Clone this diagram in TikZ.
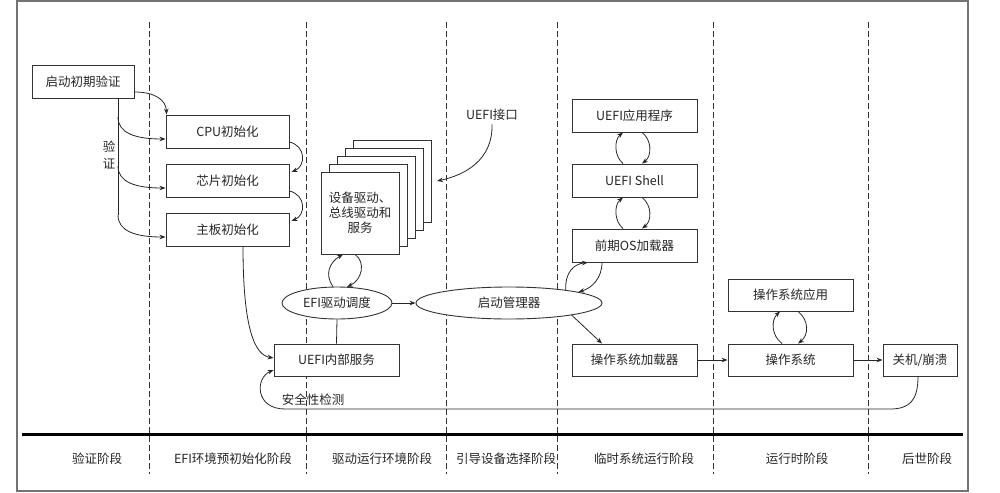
\documentclass[tikz,border=0pt]{standalone}
\usepackage{fontspec}
\setmainfont{Noto Sans CJK SC}
\usetikzlibrary{arrows.meta,shapes.geometric}

\begin{document}
\begin{tikzpicture}[x=1pt,y=-1pt,>={Stealth[length=6pt,width=4.5pt]},
    every node/.style={font=\fontsize{12.5pt}{15pt}\selectfont,text=black!85},
    box/.style={draw=black!80,line width=0.9pt,fill=white,minimum width=125pt,minimum height=33pt,inner sep=0pt},
    oval/.style={draw=black!80,line width=0.9pt,fill=white,ellipse,minimum height=32pt,inner sep=0pt},
    link/.style={draw=black!85,line width=0.8pt}]
    \useasboundingbox (0,0) rectangle (1000,492);
    \draw [black!55,line width=1.3pt] (17,1) rectangle (968,491);
    \foreach \x in {149,306,446,557,713,868}
      \draw [black!80,line width=0.8pt,dash pattern=on 6pt off 3pt] (\x,22) -- (\x,474);
    \draw [line width=3pt] (22,434) -- (963,434);
    % stack of driver pages
    \foreach \k in {4,3,2,1}
      \draw [black!80,line width=0.9pt,fill=white] (321+8*\k,172-8*\k) rectangle ++(78,82);
    \node [box,minimum width=102pt] (start) at (83,81.5) {启动初期验证};
    \node [box,minimum width=123pt] (cpu) at (227.5,131.5) {CPU初始化};
    \node [box,minimum width=123pt] (chip) at (227.5,180.5) {芯片初始化};
    \node [box,minimum width=123pt] (board) at (227.5,229.5) {主板初始化};
    \node [box,minimum width=78pt,minimum height=82pt,align=center] (drv) at (360,213) {设备驱动、\\总线驱动和\\服务};
    \node [oval,minimum width=110pt] (efi) at (337,303) {EFI驱动调度};
    \node [oval,minimum width=186pt] (bm) at (509,303) {启动管理器};
    \node [box,minimum height=32pt] (inner) at (336.5,360) {UEFI内部服务};
    \node [box] (app) at (634.5,115.5) {UEFI应用程序};
    \node [box] (shell) at (634.5,180.5) {UEFI Shell};
    \node [box] (preos) at (634.5,245.5) {前期OS加载器};
    \node [box,minimum height=32pt] (osl) at (634.5,360) {操作系统加载器};
    \node [box,minimum height=32pt] (osapp) at (790.5,295) {操作系统应用};
    \node [box,minimum height=32pt] (os) at (790.5,360) {操作系统};
    \node [box,minimum width=74pt,minimum height=32pt] (halt) at (920,360) {关机/崩溃};
    \node (iface) at (492,115) {UEFI接口};
    \coordinate (tip) at (437,181);
    \node [inner sep=0pt] (v1) at (109,147) {验};
    \node [inner sep=0pt] (v2) at (109,164) {证};
    \node (safe) at (313,400) {安全性检测};
    % verification
    \draw [link,->] (start.east |- 0,92) .. controls (155,92) and (166,100) .. ([xshift=1pt]cpu.north west);
    \draw [link] ([xshift=35pt]start.south) -- (118,215);
    \draw [link,->] (118,117) .. controls (118,133) and (135,139) .. ([yshift=-7.5pt]cpu.west);
    \draw [link,->] (118,166) .. controls (118,182) and (135,188) .. ([yshift=-7.5pt]chip.west);
    \draw [link,->] (118,215) .. controls (118,231) and (135,237) .. ([yshift=-7.5pt]board.west);
    \draw [link,->] ([yshift=-10.5pt]cpu.east) .. controls (306,146) and (306,166) .. ([xshift=2pt,yshift=8.5pt]chip.east);
    \draw [link,->] ([yshift=-10.5pt]chip.east) .. controls (306,195) and (306,215) .. ([xshift=2pt,yshift=8.5pt]board.east);
    \draw [link,->] ([xshift=15.5pt]board.south) .. controls (243,330) and (255,355) .. ([yshift=2pt]inner.west);
    % drivers
    \draw [link,->] ([xshift=-4pt]efi.north) .. controls (324,274) and (330,262) .. ([xshift=-17pt]drv.south);
    \draw [link,->] ([xshift=-5pt]drv.south) .. controls (366,262) and (362,280) .. ([xshift=10pt,yshift=-0.3pt]efi.north);
    \draw [link,->] (iface.south) .. controls (493,160) and (465,175) .. (tip);
    \draw [link,->] (efi) -- (bm);
    \draw [link] (efi.south) -- (inner.north);
    % transient system
    \draw [link,->] ([xshift=-11.5pt]shell.north) .. controls (614,156) and (614,140) .. ([xshift=-11.5pt]app.south);
    \draw [link,->] ([xshift=7.5pt]app.south) .. controls (652,140) and (652,156) .. ([xshift=7.5pt]shell.north);
    \draw [link,->] ([xshift=-11.5pt]preos.north) .. controls (614,221) and (614,205) .. ([xshift=-11.5pt]shell.south);
    \draw [link,->] ([xshift=7.5pt]shell.south) .. controls (652,205) and (652,221) .. ([xshift=7.5pt]preos.north);
    \draw [link,->] (bm.13) .. controls (565,272) and (574,264) .. ([xshift=-46.5pt]preos.south);
    \draw [link,->] ([xshift=-32.5pt]preos.south) .. controls (602,278) and (592,288) .. (bm.9);
    \draw [link,->] (bm.-11) -- ([xshift=-32.5pt]osl.north);
    \draw [link,->] (osl) -- (os);
    \draw [link,->] (os) -- (halt);
    % runtime
    \draw [link,->] ([xshift=-8.5pt]os.north) .. controls (771,335) and (771,320) .. ([xshift=-10.5pt]osapp.south);
    \draw [link,->] ([xshift=7.5pt]osapp.south) .. controls (809,320) and (809,335) .. ([xshift=7.5pt]os.north);
    \draw [link,->] ([xshift=-2pt]halt.south) .. controls (918,400) and (910,409) .. (890,409) -- (285,409)
      .. controls (255,409) and (255,378) .. ([yshift=-10pt]inner.west);
    % phases
    \node (p1) at (97,459) {验证阶段};
    \node (p2) at (233,459) {EFI环境预初始化阶段};
    \node (p3) at (382,459) {驱动运行环境阶段};
    \node (p4) at (506,459) {引导设备选择阶段};
    \node (p5) at (644,459) {临时系统运行阶段};
    \node (p6) at (797,459) {运行时阶段};
    \node (p7) at (927,459) {后世阶段};
  \end{tikzpicture}
\end{document}
